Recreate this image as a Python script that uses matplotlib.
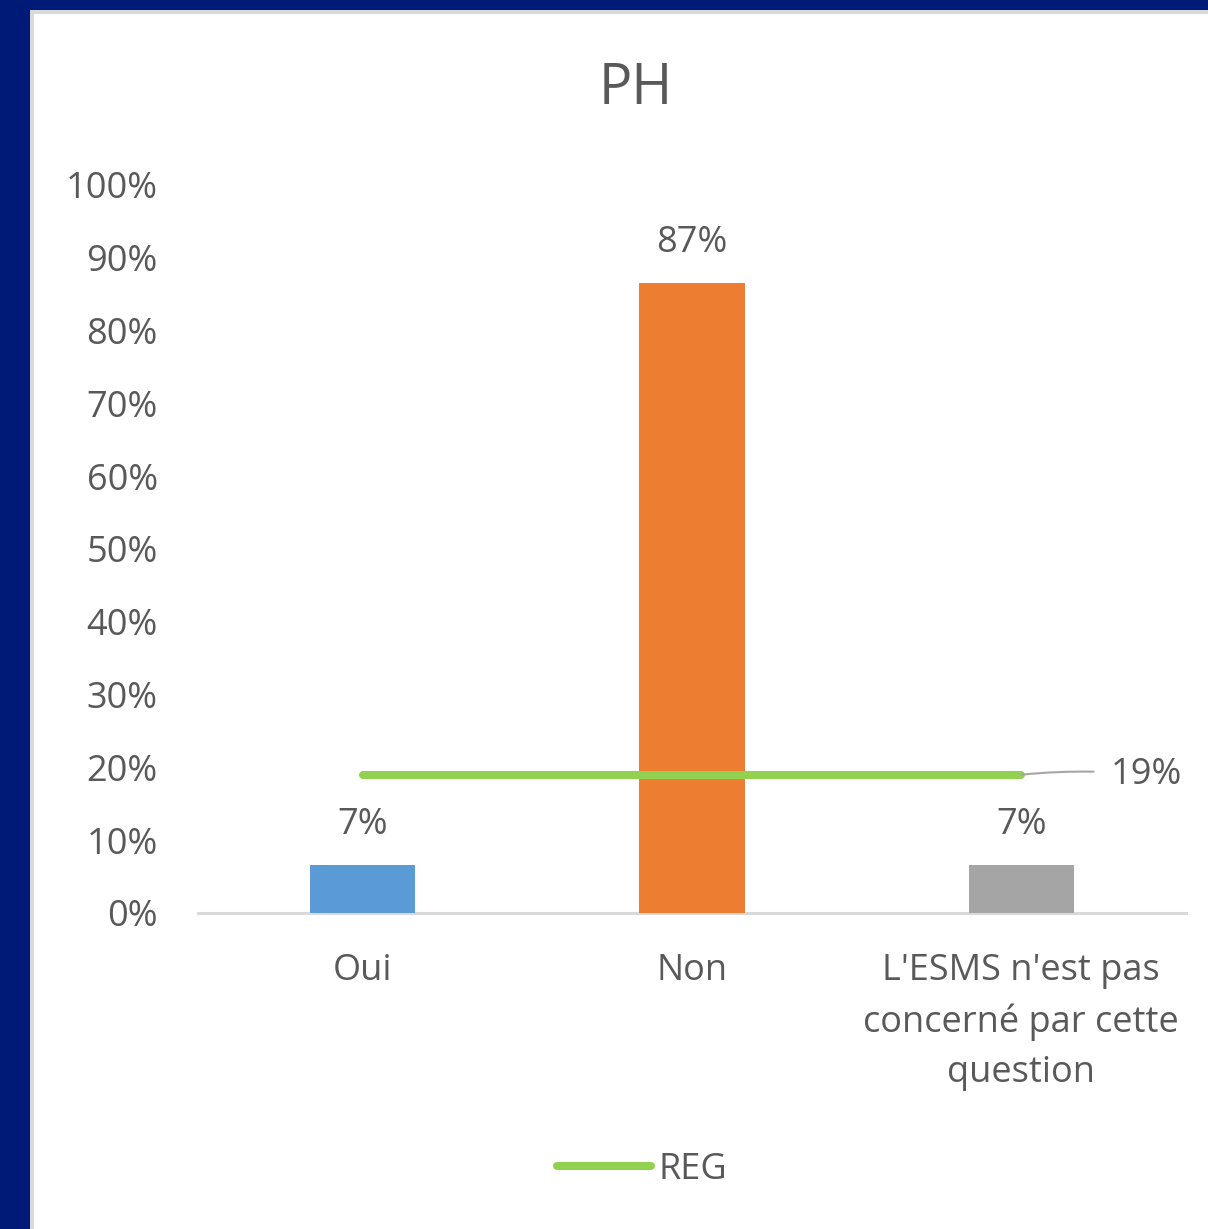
import matplotlib

matplotlib.use("Agg")
import matplotlib.pyplot as plt  # noqa: E402
from matplotlib.patches import Rectangle  # noqa: E402

# data
categories = ["Oui", "Non", "L'ESMS n'est pas\nconcerné par cette\nquestion"]
ph_values = [6.6, 86.6, 6.6]
ph_labels = ["7%", "87%", "7%"]
reg_values = [19, 19, 19]
reg_label = "19%"
bar_colors = ["#5B9BD5", "#ED7D31", "#A5A5A5"]
yticks = list(range(0, 101, 10))

TEXT = "#595959"
plt.rcParams["font.family"] = ["Open Sans", "DejaVu Sans"]

W, H = 1208, 1229
fig = plt.figure(figsize=(W / 100, H / 100), dpi=100)
fig.patch.set_facecolor("#001A78")

# panel: grey edge then white card
fig.patches.append(Rectangle((30 / W, 0), 1, 1 - 10 / H, transform=fig.transFigure,
                             facecolor="#D9D9D9", edgecolor="none", zorder=-2))
fig.patches.append(Rectangle((34 / W, 0), 1, 1 - 14 / H, transform=fig.transFigure,
                             facecolor="white", edgecolor="none", zorder=-1))

ax = fig.add_axes([198 / W, (H - 913) / H, (1186 - 198) / W, (913 - 185) / H])
ax.set_facecolor("none")

x = list(range(len(categories)))
bars = ax.bar(x, ph_values, width=0.32, color=bar_colors, zorder=2)
for b, lab in zip(bars, ph_labels):
    ax.annotate(lab, (b.get_x() + b.get_width() / 2, b.get_height()),
                xytext=(0, 22), textcoords="offset points", ha="center",
                va="baseline", fontsize=26, color=TEXT)

ax.plot(x, reg_values, color="#92D050", lw=5.8, solid_capstyle="round",
        zorder=3, label="REG")
ax.annotate(reg_label, (x[-1], reg_values[-1]), xytext=(64, 0),
            textcoords="offset points", ha="left", va="center",
            fontsize=26, color=TEXT, annotation_clip=False,
            arrowprops=dict(arrowstyle="-", color="#A6A6A6", lw=1.5,
                            shrinkA=10, shrinkB=0,
                            connectionstyle="arc3,rad=0.05"))

ax.set_xlim(-0.5, 2.5)
ax.set_ylim(0, 100)
ax.set_yticks(yticks)
ax.set_yticklabels([f"{t}%" for t in yticks])
ax.set_xticks(x)
ax.set_xticklabels(categories, linespacing=1.5)
ax.tick_params(axis="y", length=0, pad=29, labelsize=26, labelcolor=TEXT)
ax.tick_params(axis="x", length=0, pad=29, labelsize=26, labelcolor=TEXT)
for s in ["top", "right", "left"]:
    ax.spines[s].set_visible(False)
ax.spines["bottom"].set_color("#D9D9D9")
ax.spines["bottom"].set_linewidth(2.2)
ax.spines["bottom"].set_zorder(1)

fig.text(636 / W, 1 - 89 / H, "PH", ha="center", va="center",
         fontsize=40, color=TEXT)

fig.legend(loc="center", bbox_to_anchor=(642 / W, 1 - 1170 / H), frameon=False,
           fontsize=26, handlelength=2.6, handletextpad=0.2, labelcolor=TEXT)

fig.savefig("out.png", dpi=100, facecolor=fig.get_facecolor())
